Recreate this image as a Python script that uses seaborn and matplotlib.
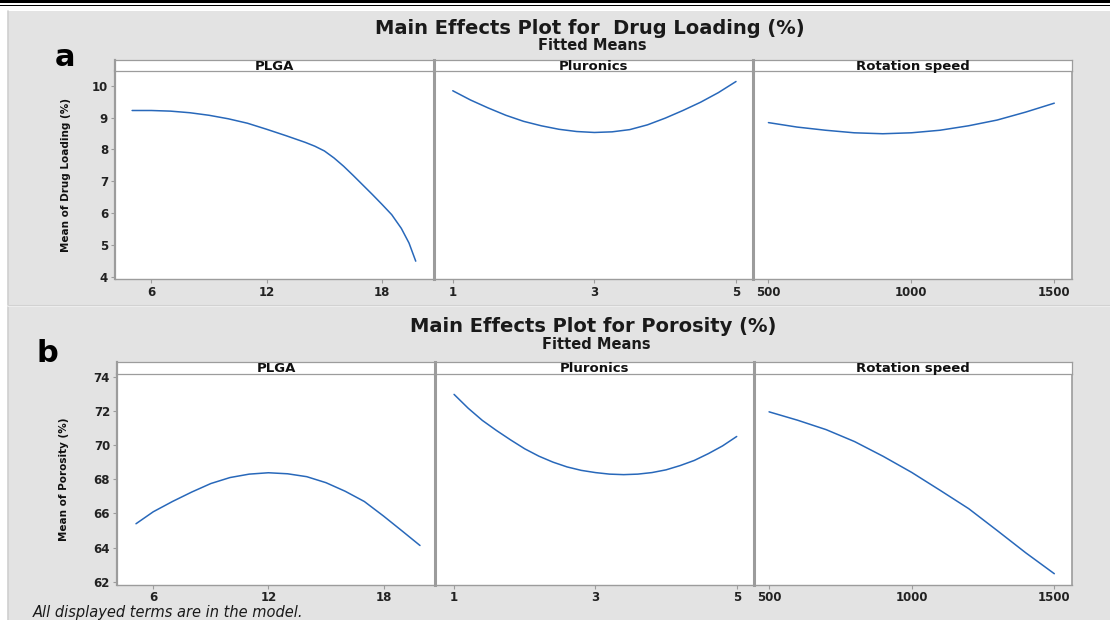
import matplotlib
matplotlib.use("Agg")
import matplotlib.pyplot as plt
import seaborn as sns
import pandas as pd
from matplotlib.patches import Rectangle
from matplotlib.lines import Line2D

# ---------------- data ----------------
factors = ["PLGA", "Pluronics", "Rotation speed"]

plga_dl_x = [5, 6, 7, 8, 9, 10, 11, 12, 13, 14, 14.5, 15, 15.5, 16, 16.5, 17, 17.5, 18, 18.5, 19,
             19.4, 19.75]
plga_dl_y = [9.22, 9.22, 9.20, 9.15, 9.07, 8.96, 8.82, 8.63, 8.43, 8.22, 8.10, 7.95, 7.73, 7.47,
             7.18, 6.88, 6.58, 6.27, 5.95, 5.52, 5.06, 4.49]
plur_dl_x = [1, 1.25, 1.5, 1.75, 2, 2.25, 2.5, 2.75, 3, 3.25, 3.5, 3.75, 4, 4.25, 4.5, 4.75, 5]
plur_dl_y = [9.84, 9.55, 9.30, 9.07, 8.88, 8.74, 8.63, 8.56, 8.53, 8.55, 8.62, 8.77, 8.98, 9.22,
             9.48, 9.78, 10.13]
rot_dl_x = [500, 600, 700, 800, 900, 1000, 1100, 1200, 1300, 1400, 1500]
rot_dl_y = [8.84, 8.70, 8.60, 8.52, 8.49, 8.52, 8.60, 8.74, 8.92, 9.17, 9.45]

plga_po_x = [5.1, 6, 7, 8, 9, 10, 11, 12, 13, 14, 15, 16, 17, 18, 19, 19.9]
plga_po_y = [65.4, 66.1, 66.7, 67.25, 67.75, 68.1, 68.3, 68.38, 68.32, 68.15, 67.8, 67.3, 66.7,
             65.85, 64.95, 64.13]
plur_po_x = [1, 1.2, 1.4, 1.6, 1.8, 2, 2.2, 2.4, 2.6, 2.8, 3, 3.2, 3.4, 3.6, 3.8, 4, 4.2, 4.4,
             4.6, 4.8, 5]
plur_po_y = [72.96, 72.15, 71.44, 70.85, 70.3, 69.78, 69.35, 69.0, 68.72, 68.52, 68.39, 68.3,
             68.27, 68.3, 68.39, 68.55, 68.8, 69.1, 69.5, 69.95, 70.5]
rot_po_x = [500, 600, 700, 800, 900, 1000, 1100, 1200, 1300, 1400, 1500]
rot_po_y = [71.94, 71.45, 70.9, 70.2, 69.34, 68.4, 67.35, 66.28, 65.0, 63.7, 62.48]

xticks = {"PLGA": [6, 12, 18], "Pluronics": [1, 3, 5], "Rotation speed": [500, 1000, 1500]}
xlims = {"PLGA": (4.11, 20.7), "Pluronics": (0.735, 5.24), "Rotation speed": (446, 1562)}
dl_yticks = [4, 5, 6, 7, 8, 9, 10]
po_yticks = [62, 64, 66, 68, 70, 72, 74]

# ---------------- style ----------------
sns.set_theme(style="white")
plt.rcParams["font.family"] = ["DejaVu Sans"]

W, H = 1110, 620
fig = plt.figure(figsize=(W / 100, H / 100), dpi=100)
fig.patch.set_facecolor("white")

def fx(px):
    return px / W

def fy(py):
    return 1 - py / H

# background panel
fig.patches.append(Rectangle((fx(8), 0), 1 - fx(8), fy(11), transform=fig.transFigure,
                             facecolor="#e3e3e3", edgecolor="none", zorder=-10))
fig.lines.append(Line2D([fx(8), fx(8)], [0, fy(11)], transform=fig.transFigure, color="#cfcfcf",
                        lw=1.2, zorder=-5))
# top black rules
fig.patches.append(Rectangle((0, fy(3.2)), 1, 3.2 / H, transform=fig.transFigure,
                             facecolor="black", edgecolor="none", zorder=-5))
fig.patches.append(Rectangle((0, fy(6.3)), 1, 1.6 / H, transform=fig.transFigure,
                             facecolor="black", edgecolor="none", zorder=-5))
# separator between a and b
fig.lines.append(Line2D([fx(8), 1], [fy(306), fy(306)], transform=fig.transFigure, color="#f2f2f2",
                        lw=1.2, zorder=-5))
fig.lines.append(Line2D([fx(8), 1], [fy(304.8), fy(304.8)], transform=fig.transFigure,
                        color="#d2d2d2", lw=0.8, zorder=-5))

line_color = "#2868ba"
frame_color = "#9c9c9c"

def make_row(top_strip, top_data, bottom, left, right, series, ylim, yticks, ylabel,
             ylabel_x):
    n = 3
    wpx = (right - left) / n
    axes = []
    for i, fac in enumerate(factors):
        l = left + i * wpx
        ax = fig.add_axes([fx(l), fy(bottom), wpx / W, (bottom - top_data) / H])
        ax.set_facecolor("white")
        xs, ys = series[i]
        df = pd.DataFrame({"x": xs, "y": ys})
        sns.lineplot(data=df, x="x", y="y", ax=ax, color=line_color, lw=1.1,
                     sort=False, estimator=None)
        ax.set_xlim(*xlims[fac])
        ax.set_ylim(*ylim)
        ax.set_xticks(xticks[fac])
        ax.set_xticklabels([str(t) for t in xticks[fac]], fontsize=8.5, fontweight="bold",
                           color="#222222")
        ax.set_xlabel("")
        ax.set_ylabel("")
        ax.tick_params(axis="x", length=3, width=0.8, color=frame_color, pad=2, direction="out",
                       bottom=True)
        if i == 0:
            ax.set_yticks(yticks)
            ax.set_yticklabels([str(t) for t in yticks], fontsize=8.5, fontweight="bold",
                               color="#222222")
            ax.tick_params(axis="y", length=3, width=0.8, color=frame_color, pad=2,
                           direction="out", left=True)
        else:
            ax.set_yticks([])
        for s in ["top", "right"]:
            ax.spines[s].set_visible(False)
        ax.spines["bottom"].set_color(frame_color)
        ax.spines["bottom"].set_linewidth(1.0)
        ax.spines["left"].set_color(frame_color)
        ax.spines["left"].set_linewidth(2.2 if i > 0 else 1.6)
        if i == n - 1:
            ax.spines["right"].set_visible(True)
            ax.spines["right"].set_color(frame_color)
            ax.spines["right"].set_linewidth(1.2)
        # strip
        sax = fig.add_axes([fx(l), fy(top_data), wpx / W, (top_data - top_strip) / H])
        sax.set_facecolor("white")
        sax.set_xticks([])
        sax.set_yticks([])
        for s in sax.spines.values():
            s.set_color(frame_color)
            s.set_linewidth(0.9)
        sax.spines["left"].set_linewidth(2.2 if i > 0 else 1.6)
        sax.text(0.5, 0.45, fac, ha="center", va="center", fontsize=9.5, fontweight="bold",
                 color="#111111", transform=sax.transAxes)
        axes.append(ax)
    fig.text(fx(ylabel_x), fy((top_data + bottom) / 2), ylabel, rotation=90, ha="center",
             va="center", fontsize=7.5, fontweight="bold", color="#111111")
    return axes

make_row(60, 71, 279, 115, 1072,
         [(plga_dl_x, plga_dl_y), (plur_dl_x, plur_dl_y), (rot_dl_x, rot_dl_y)],
         (3.93, 10.46), dl_yticks, "Mean of Drug Loading (%)", 66)
make_row(362, 373.5, 584.5, 117, 1072,
         [(plga_po_x, plga_po_y), (plur_po_x, plur_po_y), (rot_po_x, rot_po_y)],
         (61.85, 74.18), po_yticks, "Mean of Porosity (%)", 64)

# titles
fig.text(fx(590), fy(28), "Main Effects Plot for  Drug Loading (%)", ha="center", va="center",
         fontsize=14, fontweight="bold", color="#1a1a1a")
fig.text(fx(592), fy(46), "Fitted Means", ha="center", va="center", fontsize=10.5,
         fontweight="bold", color="#1a1a1a")
fig.text(fx(593), fy(327), "Main Effects Plot for Porosity (%)", ha="center", va="center",
         fontsize=14, fontweight="bold", color="#1a1a1a")
fig.text(fx(596), fy(345), "Fitted Means", ha="center", va="center", fontsize=10.5,
         fontweight="bold", color="#1a1a1a")
fig.text(fx(65), fy(58), "a", ha="center", va="center", fontsize=22, fontweight="bold",
         color="black")
fig.text(fx(47), fy(353), "b", ha="center", va="center", fontsize=22, fontweight="bold",
         color="black")
fig.text(fx(33), fy(612), "All displayed terms are in the model.", ha="left", va="center",
         fontsize=10.5, fontstyle="italic", color="#1a1a1a")

fig.savefig("out.png", dpi=100, facecolor=fig.get_facecolor())
